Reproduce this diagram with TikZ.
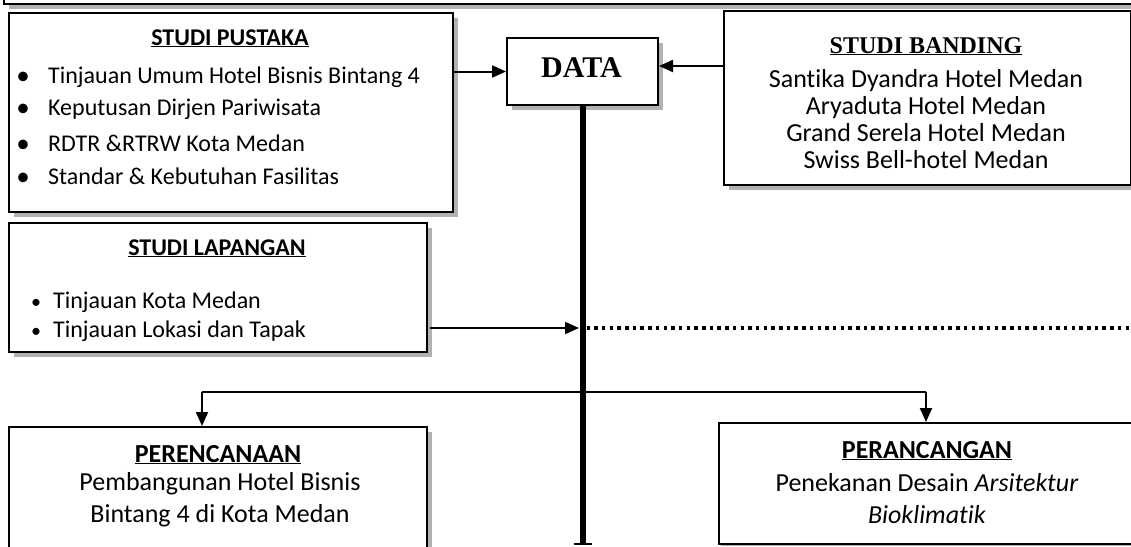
\documentclass[tikz,border=0pt]{standalone}
\usepackage{fontspec}
\setmainfont{Carlito}[Ligatures={NoCommon}]
\newfontfamily\tnr{Liberation Serif}
\usetikzlibrary{arrows.meta,shadows}
\newcommand\fsA{\fontsize{24}{29}\selectfont}
\newcommand\fsB{\fontsize{26}{31}\selectfont}
\begin{document}
\begin{tikzpicture}[x=1pt,y=-1pt,
  box/.style={draw=black, line width=2pt, fill=white, inner sep=0pt, anchor=north west,
    drop shadow={shadow xshift=5pt, shadow yshift=-5pt, fill=gray!60, opacity=1}},
  thinbox/.style={draw=black, line width=1.6pt, fill=white, inner sep=0pt, anchor=north west,
    drop shadow={shadow xshift=2.5pt, shadow yshift=-2.5pt, fill=gray!60, opacity=1}},
  txt/.style={inner sep=0pt, anchor=base},
  ltxt/.style={inner sep=0pt, anchor=base west},
  arr/.style={line width=2pt, -{Triangle[length=14pt,width=12pt]}},
  thinline/.style={line width=1.5pt},
  dotline/.style={line width=3.5pt, dash pattern=on 3.5pt off 4.2pt},
  spine/.style={line width=6pt}]
\useasboundingbox (0,0) rectangle (1131,546);
\clip (0,0) rectangle (1131,546);

% top box (cut off)
\node[box, minimum width=1150, minimum height=63] (topbox) at (3,-60) {};

% STUDI PUSTAKA
\node[box, minimum width=444, minimum height=199] (pustaka) at (8,12) {};
\node[txt, font=\fsA\bfseries] (pt) at (230,45) {\underline{STUDI PUSTAKA}};
\node[txt, font=\fontsize{27}{29}\selectfont] (pb1) at (23,84) {•};
\node[ltxt, font=\fsA] (p1) at (48,83) {Tinjauan Umum Hotel Bisnis Bintang 4};
\node[txt, font=\fontsize{27}{29}\selectfont] (pb2) at (23,116) {•};
\node[ltxt, font=\fsA] (p2) at (48,115) {Keputusan Dirjen Pariwisata};
\node[txt, font=\fontsize{27}{29}\selectfont] (pb3) at (23,152) {•};
\node[ltxt, font=\fsA] (p3) at (48,151) {RDTR \&RTRW Kota Medan};
\node[txt, font=\fontsize{27}{29}\selectfont] (pb4) at (23,185) {•};
\node[ltxt, font=\fsA] (p4) at (48,184) {Standar \& Kebutuhan Fasilitas};

% DATA
\node[box, minimum width=151, minimum height=67] (data) at (506,37) {};
\node[txt, font=\fontsize{30}{34}\tnr\bfseries] (dt) at (581.5,77) {DATA};

% STUDI BANDING
\node[box, minimum width=407, minimum height=174] (banding) at (723,10) {};
\node[txt, font=\fontsize{24}{29}\tnr\bfseries] (bt) at (926,53) {\underline{STUDI BANDING}};
\node[txt, font=\fsB] (b1) at (926,87) {Santika Dyandra Hotel Medan};
\node[txt, font=\fsB] (b2) at (926,114) {Aryaduta Hotel Medan};
\node[txt, font=\fsB] (b3) at (926,141) {Grand Serela Hotel Medan};
\node[txt, font=\fsB] (b4) at (926,168) {Swiss Bell-hotel Medan};

% STUDI LAPANGAN
\node[box, minimum width=418, minimum height=129] (lapangan) at (8,222) {};
\node[txt, font=\fsA\bfseries] (lt) at (217,255) {\underline{STUDI LAPANGAN}};
\node[txt, font=\fontsize{20}{24}\selectfont] (lb1) at (36,308) {•};
\node[ltxt, font=\fsA] (l1) at (53,308) {Tinjauan Kota Medan};
\node[txt, font=\fontsize{20}{24}\selectfont] (lb2) at (36,337) {•};
\node[ltxt, font=\fsA] (l2) at (53,337) {Tinjauan Lokasi dan Tapak};

% PERENCANAAN
\node[box, minimum width=418, minimum height=160] (perenc) at (8,426) {};
\node[txt, font=\fsB\bfseries] (et) at (218,462) {\underline{PERENCANAAN}};
\node[txt, font=\fsB] (e1) at (220,490) {Pembangunan Hotel Bisnis};
\node[txt, font=\fsB] (e2) at (220,522) {Bintang 4 di Kota Medan};

% PERANCANGAN
\node[thinbox, minimum width=450, minimum height=121] (peranc) at (718,422) {};
\node[txt, font=\fsB\bfseries] (at) at (927,458) {\underline{PERANCANGAN}};
\node[txt, font=\fsB] (a1) at (927,491) {Penekanan Desain \textit{Arsitektur}};
\node[txt, font=\fsB] (a2) at (927,523) {\textit{Bioklimatik}};

% spine
\coordinate (spend) at (data.south |- 0,544);
\draw[spine] (data.south) -- (spend);
\coordinate (tickL) at ([xshift=-9pt]spend);
\coordinate (tickR) at ([xshift=9pt]spend);
\draw[line width=2pt] (tickL) -- (tickR);

% arrows to DATA
\draw[arr] (pustaka.east |- data.west) -- (data.west);
\coordinate (bandL) at (banding.west |- 0,66);
\draw[arr] (bandL) -- (data.east |- bandL);

% lapangan to spine + dotted
\coordinate (lapR) at (430,328);
\coordinate (spL) at (579,328);
\coordinate (spC) at (data.south |- lapR);
\coordinate (dotR) at (1131,328);
\draw[arr] (lapR) -- (spL);
\draw[dotline] ([xshift=4pt]spC) -- (dotR);

% branch
\coordinate (brL) at (202,392);
\coordinate (brR) at (926,392);
\draw[thinline] (brL) -- (brR);
\draw[arr] (brL) -- (perenc.north -| brL);
\draw[arr] (brR) -- (peranc.north -| brR);
\end{tikzpicture}
\end{document}
